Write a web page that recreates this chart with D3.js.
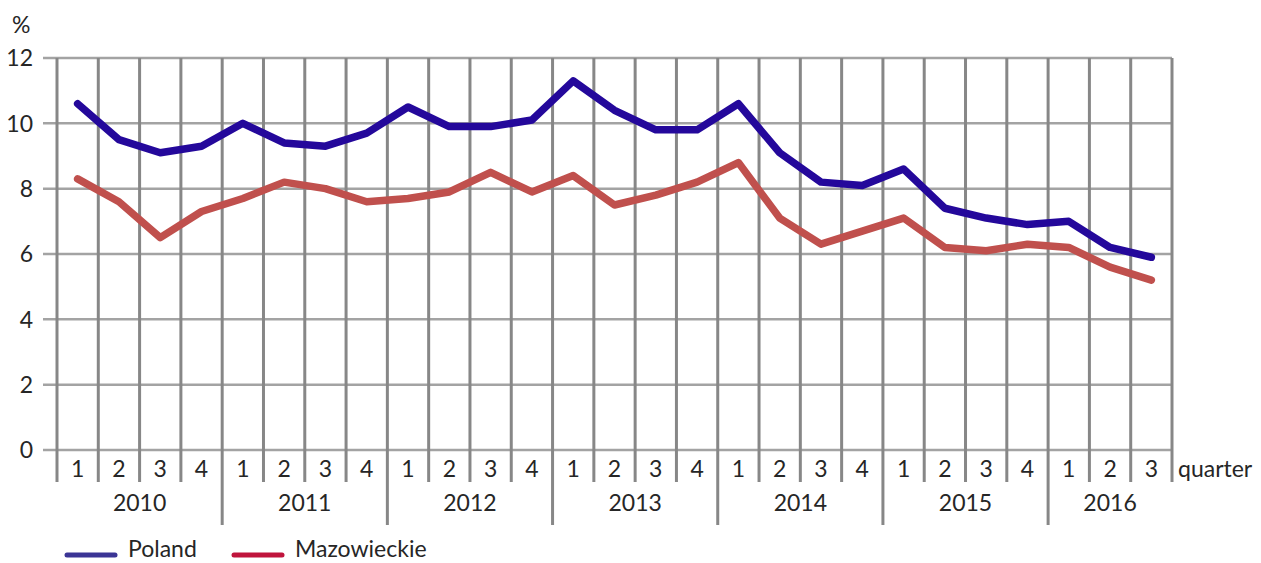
<!DOCTYPE html>
<html><head><meta charset="utf-8">
<script src="https://cdn.jsdelivr.net/npm/d3@7"></script>
<style>body{margin:0;background:#fff;}svg{display:block;font-family:Lato,"Open Sans",sans-serif;}</style>
</head><body><svg id="c" width="1261" height="563"></svg>
<script>
const years = ["2010","2011","2012","2013","2014","2015","2016"];
const quarterLabels = ["1","2","3","4","1","2","3","4","1","2","3","4","1","2","3","4","1","2","3","4","1","2","3","4","1","2","3"];
const poland = [10.6,9.5,9.1,9.3,10.0,9.4,9.3,9.7,10.5,9.9,9.9,10.1,11.3,10.4,9.8,9.8,10.6,9.1,8.2,8.1,8.6,7.4,7.1,6.9,7.0,6.2,5.9];
const mazowieckie = [8.3,7.6,6.5,7.3,7.7,8.2,8.0,7.6,7.7,7.9,8.5,7.9,8.4,7.5,7.8,8.2,8.8,7.1,6.3,6.7,7.1,6.2,6.1,6.3,6.2,5.6,5.2];
const yTicks = [0,2,4,6,8,10,12];

const svg = d3.select("#c");
const L = 57, R = 1172, T = 58, B = 450;
const n = quarterLabels.length;
const xb = d3.scaleLinear().domain([0, n]).range([L, R]);
const y = d3.scaleLinear().domain([0, 12]).range([B, T]);
const textColor = "#262626";
const fs = 23;

// horizontal gridlines
svg.append("g").selectAll("line").data(yTicks).join("line")
  .attr("x1", L - 14).attr("x2", R).attr("y1", d => y(d)).attr("y2", d => y(d))
  .attr("stroke", "#a3a3a3").attr("stroke-width", 2.5);

// vertical gridlines
const bounds = d3.range(n + 1);
const isYearBound = i => i % 4 === 0 && i > 0 && i < n;
svg.append("g").selectAll("line").data(bounds).join("line")
  .attr("x1", d => xb(d)).attr("x2", d => xb(d))
  .attr("y1", T).attr("y2", d => isYearBound(d) ? 525 : 482)
  .attr("stroke", "#878787").attr("stroke-width", 3);

// y labels
svg.append("g").selectAll("text").data(yTicks).join("text")
  .attr("x", 33).attr("y", d => y(d)).attr("dy", "0.36em")
  .attr("text-anchor", "end").attr("font-size", fs).attr("fill", textColor)
  .text(d => d);
svg.append("text").attr("x", 12).attr("y", 33).attr("font-size", fs).attr("fill", textColor).text("%");

// quarter labels
svg.append("g").selectAll("text").data(quarterLabels).join("text")
  .attr("x", (d, i) => xb(i + 0.5)).attr("y", 477)
  .attr("text-anchor", "middle").attr("font-size", fs).attr("fill", textColor)
  .text(d => d);
svg.append("text").attr("x", 1178).attr("y", 477).attr("font-size", fs).attr("fill", textColor).text("quarter");

// year labels
svg.append("g").selectAll("text").data(years).join("text")
  .attr("x", (d, i) => xb((i * 4 + Math.min(i * 4 + 4, n)) / 2)).attr("y", 511)
  .attr("text-anchor", "middle").attr("font-size", fs).attr("fill", textColor)
  .text(d => d);

// lines
const line = d3.line().x((d, i) => xb(i + 0.5)).y(d => y(d));
const series = [
  {name: "Mazowieckie", values: mazowieckie, color: "#c0504d"},
  {name: "Poland", values: poland, color: "#24089b"}
];
svg.append("g").selectAll("path").data(series).join("path")
  .attr("d", d => line(d.values)).attr("fill", "none")
  .attr("stroke", d => d.color).attr("stroke-width", 7.5)
  .attr("stroke-linejoin", "round").attr("stroke-linecap", "round");

// legend
const legend = [
  {name: "Poland", color: "#3b3595", x: 67},
  {name: "Mazowieckie", color: "#c0143c", x: 234}
];
const lg = svg.append("g").selectAll("g").data(legend).join("g");
lg.append("line").attr("x1", d => d.x).attr("x2", d => d.x + 48).attr("y1", 555).attr("y2", 555)
  .attr("stroke", d => d.color).attr("stroke-width", 5).attr("stroke-linecap", "round");
lg.append("text").attr("x", d => d.x + 61).attr("y", 557).attr("font-size", fs).attr("fill", textColor).text(d => d.name);
</script></body></html>
